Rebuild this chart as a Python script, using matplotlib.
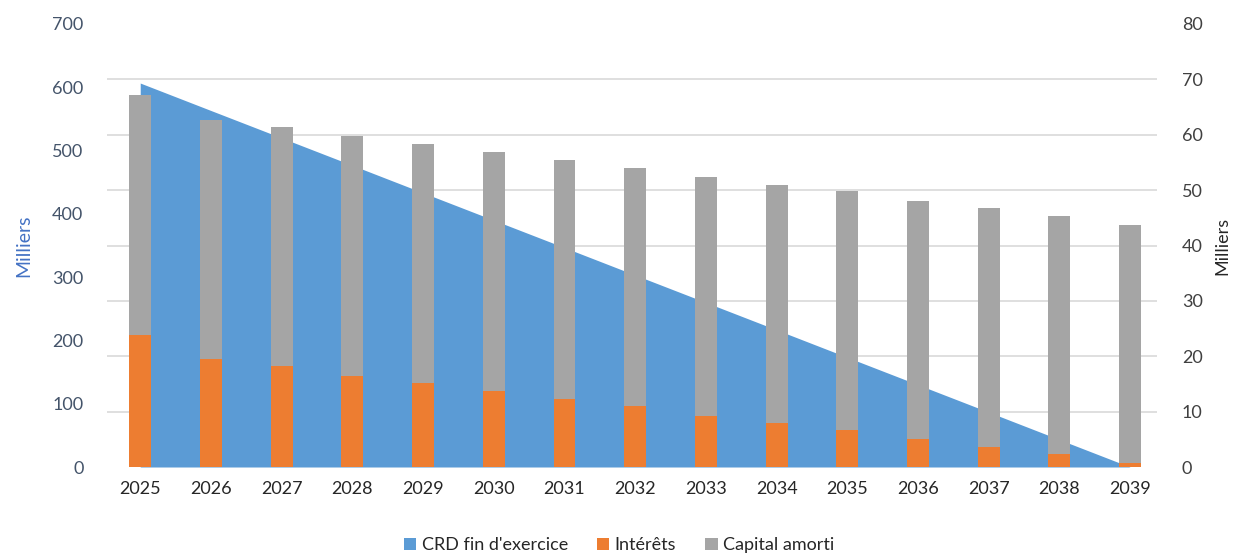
import matplotlib
matplotlib.use("Agg")
import matplotlib.pyplot as plt
import numpy as np

years = ["2025", "2026", "2027", "2028", "2029", "2030", "2031", "2032",
         "2033", "2034", "2035", "2036", "2037", "2038", "2039"]

# values in thousands (Milliers)
crd_fin = [606.7, 563.3, 520.0, 476.7, 433.3, 390.0, 346.7, 303.3,
           260.0, 216.7, 173.3, 130.0, 86.7, 43.3, 0.0]
interets = [23.8, 19.5, 18.3, 16.5, 15.2, 13.7, 12.3, 11.0,
            9.3, 8.0, 6.7, 5.0, 3.7, 2.3, 0.7]
capital_amorti = [43.3, 43.2, 43.1, 43.3, 43.2, 43.2, 43.1, 43.0,
                  43.1, 43.0, 43.1, 43.1, 43.0, 43.1, 43.0]

left_ticks = [0, 100, 200, 300, 400, 500, 600, 700]
right_ticks = [0, 10, 20, 30, 40, 50, 60, 70, 80]

BLUE = "#5B9BD5"
ORANGE = "#ED7D31"
GRAY = "#A5A5A5"
GRID = "#D9D9D9"

plt.rcParams["font.family"] = ["Lato", "DejaVu Sans"]

fig = plt.figure(figsize=(12.38, 5.53), dpi=100)
ax = fig.add_axes([107 / 1238, 1 - 467 / 553, (1157 - 107) / 1238, (467 - 24) / 553])
ax2 = ax.twinx()

x = np.arange(len(years))

# area on the left axis
ax.fill_between(x, crd_fin, 0, color=BLUE, linewidth=0, zorder=2, label="CRD fin d'exercice")
ax.set_ylim(0, 700)
ax.set_yticks(left_ticks)
ax.set_yticks(np.linspace(0, 700, 9), minor=True)
ax.grid(which="minor", axis="y", color=GRID, linewidth=1.2, zorder=0)
ax.grid(which="major", visible=False)
ax.tick_params(axis="y", which="both", length=0, labelsize=13, colors="#44546A", pad=17)
ax.set_ylabel("Milliers", color="#4472C4", fontsize=14, labelpad=14)

# stacked bars on the right axis
w = 0.31
ax2.bar(x, interets, w, color=ORANGE, zorder=3, label="Intérêts")
ax2.bar(x, capital_amorti, w, bottom=interets, color=GRAY, zorder=3, label="Capital amorti")
ax2.set_ylim(0, 80)
ax2.set_yticks(right_ticks)
ax2.tick_params(axis="y", length=0, labelsize=13, colors="#404040", pad=18)
ax2.set_ylabel("Milliers", color="#262626", fontsize=13, labelpad=8)

ax.set_xlim(-0.47, 14.38)
ax.set_xticks(x)
ax.set_xticklabels(years)
ax.tick_params(axis="x", length=0, labelsize=13, colors="#262626", pad=10)

for a in (ax, ax2):
    for s in a.spines.values():
        s.set_visible(False)

h1, l1 = ax.get_legend_handles_labels()
h2, l2 = ax2.get_legend_handles_labels()
fig.legend(h1 + h2, l1 + l2, loc="lower center", bbox_to_anchor=(0.5, -0.03), ncol=3,
           frameon=False, fontsize=13, handlelength=0.7, handleheight=0.7,
           handletextpad=0.3, columnspacing=1.6, labelcolor="#262626")

fig.savefig("out.png", dpi=100)
